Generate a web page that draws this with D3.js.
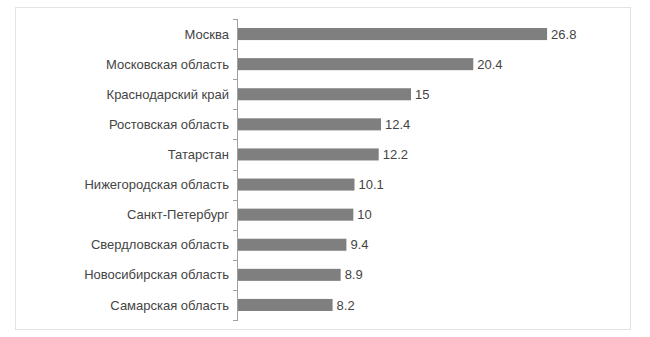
<!DOCTYPE html>
<html><head><meta charset="utf-8">
<script src="https://cdn.jsdelivr.net/npm/d3@7"></script>
<style>body{margin:0;background:#fff;}svg{display:block;}</style>
</head><body>
<svg id="c" width="650" height="337"></svg>
<script>
const categories = ["Москва","Московская область","Краснодарский край","Ростовская область","Татарстан","Нижегородская область","Санкт-Петербург","Свердловская область","Новосибирская область","Самарская область"];
const values = [26.8,20.4,15,12.4,12.2,10.1,10,9.4,8.9,8.2];
const valueLabels = ["26.8","20.4","15","12.4","12.2","10.1","10","9.4","8.9","8.2"];

const svg = d3.select("#c");
svg.append("rect").attr("x",15.5).attr("y",7.5).attr("width",615).attr("height",322)
  .attr("fill","#fff").attr("stroke","#e3e3e3");

const x = d3.scaleLinear().domain([0,30]).range([238,584]);
const y = d3.scaleBand().domain(categories).range([19,320]).paddingInner(0.6).paddingOuter(0.3);

const font = "'Liberation Sans', Arial, sans-serif";

svg.selectAll("rect.bar").data(values).join("rect").attr("class","bar")
  .attr("x",x(0)).attr("y",(d,i)=>y(categories[i]))
  .attr("width",d=>x(d)-x(0)).attr("height",y.bandwidth())
  .attr("fill","#7f7f7f");

const bounds = d3.range(categories.length+1).map(i=>19 + i*(320-19)/categories.length);
svg.append("line").attr("x1",237.5).attr("x2",237.5).attr("y1",19).attr("y2",320).attr("stroke","#a0a0a0");
svg.selectAll("line.tk").data(bounds).join("line").attr("class","tk")
  .attr("x1",233).attr("x2",238).attr("y1",d=>Math.round(d)+0.5).attr("y2",d=>Math.round(d)+0.5).attr("stroke","#a0a0a0");

svg.selectAll("text.cat").data(categories).join("text").attr("class","cat")
  .attr("x",229).attr("y",d=>y(d)+y.bandwidth()/2).attr("dy","0.35em")
  .attr("text-anchor","end").attr("font-family",font).attr("font-size",13)
  .attr("fill","#444").text(d=>d);

svg.selectAll("text.val").data(values).join("text").attr("class","val")
  .attr("x",d=>x(d)+4).attr("y",(d,i)=>y(categories[i])+y.bandwidth()/2).attr("dy","0.35em")
  .attr("font-family",font).attr("font-size",13).attr("fill","#444")
  .text((d,i)=>valueLabels[i]);
</script>
</body></html>
